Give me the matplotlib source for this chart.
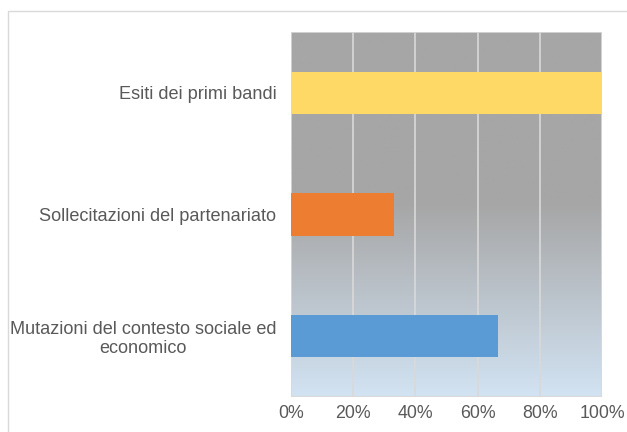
import matplotlib
matplotlib.use("Agg")
import matplotlib.pyplot as plt
import numpy as np
from matplotlib.colors import LinearSegmentedColormap
from matplotlib.patches import Rectangle
from matplotlib.ticker import FuncFormatter

plt.rcParams['font.family'] = ['Liberation Sans', 'DejaVu Sans']

categories = ["Mutazioni del contesto sociale ed\neconomico",
              "Sollecitazioni del partenariato",
              "Esiti dei primi bandi"]
values = [0.667, 0.33, 1.0]
colors = ["#5B9BD5", "#ED7D31", "#FFD966"]
xticks = [0, 0.2, 0.4, 0.6, 0.8, 1.0]

W, H = 627, 432
fig = plt.figure(figsize=(W/100, H/100), dpi=100)
fig.patches.append(Rectangle((8/W, -0.1), 1.2, 1 - 11/H + 0.1, transform=fig.transFigure,
                             fill=False, edgecolor="#d9d9d9", linewidth=1.0))

x0, x1, y0, y1 = 291, 602, 32, 397
ax = fig.add_axes([x0/W, 1 - y1/H, (x1-x0)/W, (y1-y0)/H])

# gradient background
cmap = LinearSegmentedColormap.from_list("bg", [(0, "#a6a6a6"), (0.47, "#a6a6a6"), (1.0, "#d2e3f3")])
grad = np.linspace(0, 1, 256).reshape(-1, 1)
ax.imshow(grad, extent=[0, 1, 0, 1], transform=ax.transAxes, aspect='auto',
          cmap=cmap, origin='upper', zorder=0)

ypos = np.arange(len(categories))
ax.barh(ypos, values, height=0.35, color=colors, zorder=3)

ax.set_xlim(0, 1)
ax.set_ylim(-0.5, len(categories) - 0.5)
ax.set_xticks(xticks)
ax.xaxis.set_major_formatter(FuncFormatter(lambda v, p: f"{int(round(v*100))}%"))
ax.set_yticks(ypos)
ax.set_yticklabels(categories, multialignment='center', linespacing=1.15)
for v in xticks:
    ax.axvline(v, color="#d9d9d9", linewidth=1.2, zorder=1)
ax.axhline(-0.5, color="#d9d9d9", linewidth=1.5, zorder=1)
ax.axhline(len(categories) - 0.5, color="#d9d9d9", linewidth=1.2, zorder=1)

for s in ax.spines.values():
    s.set_visible(False)
ax.tick_params(axis='both', length=0, colors="#595959")
ax.tick_params(axis='x', labelsize=12.8, pad=6)
ax.tick_params(axis='y', labelsize=13.1, pad=10.5)

fig.savefig("out.png", dpi=100)
